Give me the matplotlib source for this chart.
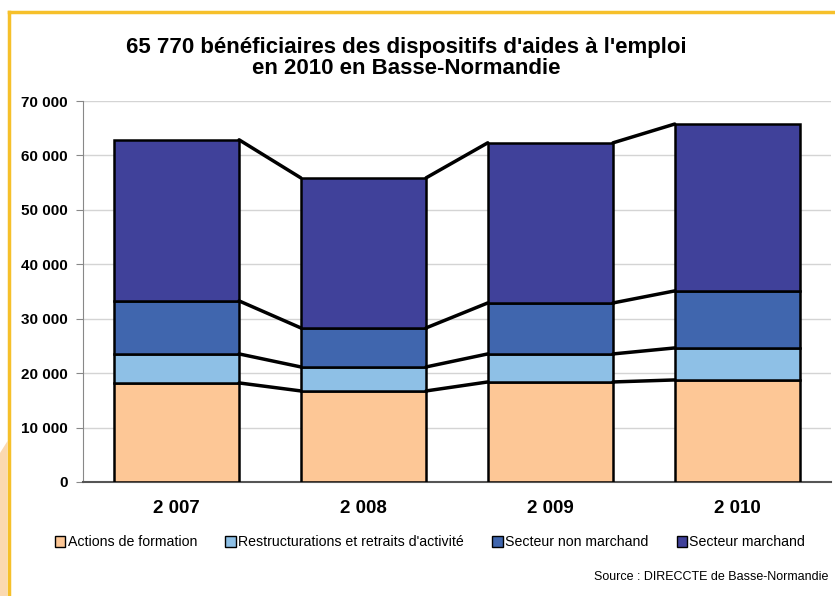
import matplotlib.pyplot as plt
import matplotlib.patches as mpatches
import numpy as np

plt.rcParams['font.family'] = ['Liberation Sans', 'DejaVu Sans']

# donnees
annees = ['2 007', '2 008', '2 009', '2 010']
formation = [18200, 16730, 18380, 18750]
restructurations = [5330, 4410, 5150, 5880]
non_marchand = [9740, 7170, 9370, 10480]
marchand = [29600, 27570, 29420, 30660]

series = [formation, restructurations, non_marchand, marchand]
noms = ['Actions de formation', "Restructurations et retraits d'activité",
        'Secteur non marchand', 'Secteur marchand']
couleurs = ['#FDC796', '#8EC0E6', '#4066AE', '#40419A']

fig = plt.figure(figsize=(8.35, 5.96), dpi=100)
ax = fig.add_axes([0.0994, 0.1913, 0.8956, 0.6392])

x = np.arange(len(annees))
largeur = 0.67
bas = np.zeros(len(annees))
for vals, nom, c in zip(series, noms, couleurs):
    ax.bar(x, vals, largeur, bottom=bas, color=c, edgecolor='black',
           linewidth=1.8, label=nom, zorder=3)
    bas = bas + np.array(vals)
    # lignes de liaison entre les barres
    for i in range(len(annees) - 1):
        ax.plot([x[i] + largeur / 2, x[i + 1] - largeur / 2], [bas[i], bas[i + 1]],
                color='black', linewidth=2.5, zorder=4, solid_capstyle='round')

ax.set_xlim(-0.5, len(annees) - 0.5)
ax.set_ylim(0, 70000)
ax.set_yticks(range(0, 70001, 10000))
ax.set_yticklabels(['0' if v == 0 else '{} 000'.format(v // 1000) for v in range(0, 70001, 10000)],
                   fontsize=11, fontweight='bold')
ax.set_xticks(x)
ax.set_xticklabels(annees, fontsize=13.5, fontweight='bold')
ax.tick_params(axis='x', length=0, pad=13)
ax.tick_params(axis='y', direction='out', length=5, color='#888888', pad=6)
ax.grid(axis='y', color='#d4d4d4', linewidth=1, zorder=0)
ax.spines['top'].set_visible(False)
ax.spines['right'].set_visible(False)
ax.spines['left'].set_color('#888888')
ax.spines['bottom'].set_color('#555555')
ax.spines['bottom'].set_linewidth(1.5)

fig.text(0.487, 0.902, "65 770 bénéficiaires des dispositifs d'aides à l'emploi\nen 2010 en Basse-Normandie",
         ha='center', va='center', fontsize=16, fontweight='bold', linespacing=1.0)

poignees = [mpatches.Patch(facecolor=c, edgecolor='black', linewidth=1) for c in couleurs]
fig.legend(poignees, noms, loc='center', bbox_to_anchor=(0.515, 0.090), ncol=4,
           frameon=False, fontsize=10.2, handlelength=0.75, handleheight=0.75,
           handletextpad=0.15, columnspacing=2.0)

fig.text(0.992, 0.022, 'Source : DIRECCTE de Basse-Normandie', ha='right', va='bottom', fontsize=9)

# cadre jaune
fig.add_artist(plt.Line2D([0.0105, 1.0], [0.980, 0.980], color='#F6C02A', linewidth=2.5))
fig.add_artist(plt.Line2D([0.0105, 0.0105], [0.0, 0.980], color='#F6C02A', linewidth=2.5))
fig.add_artist(mpatches.Polygon([[0, 0], [0.009, 0], [0.009, 0.26], [0, 0.24]],
                                closed=True, facecolor='#FBD9B0', edgecolor='none'))

fig.savefig('out.png')
